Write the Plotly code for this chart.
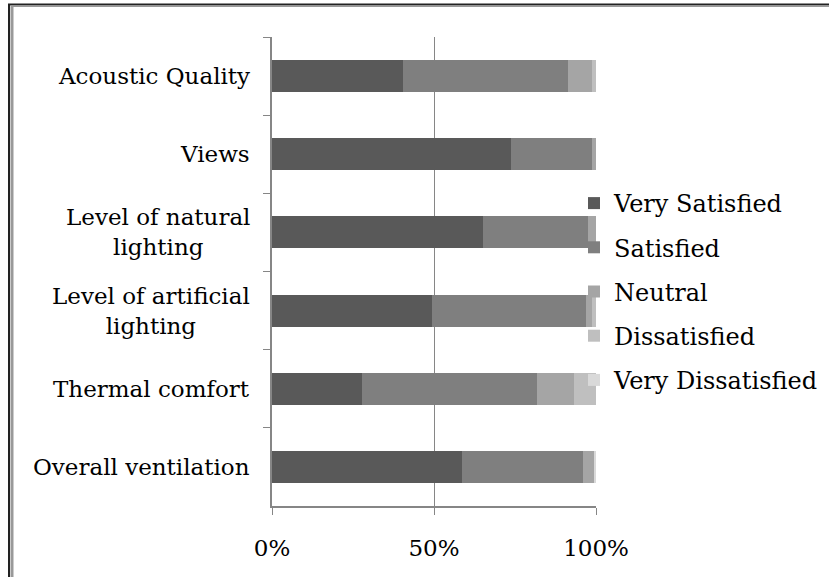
import plotly.graph_objects as go

categories = ["Acoustic Quality", "Views", "Level of natural<br>lighting",
              "Level of artificial<br>lighting", "Thermal comfort", "Overall ventilation"]
series_names = ["Very Satisfied", "Satisfied", "Neutral", "Dissatisfied", "Very Dissatisfied"]
very_satisfied = [40.4, 73.8, 65.1, 49.4, 27.8, 58.6]
satisfied = [51.0, 25.0, 32.4, 47.5, 54.0, 37.4]
neutral = [7.4, 1.2, 2.5, 1.9, 11.4, 3.4]
dissatisfied = [1.2, 0.0, 0.0, 1.2, 6.8, 0.0]
very_dissatisfied = [0.0, 0.0, 0.0, 0.0, 0.0, 0.6]
x_ticks = [0, 50, 100]
x_tick_labels = ["0%", "50%", "100%"]

colors = ["#595959", "#7f7f7f", "#a5a5a5", "#bfbfbf", "#d9d9d9"]
values = [very_satisfied, satisfied, neutral, dissatisfied, very_dissatisfied]

FONT = "DejaVu Serif"
FS = 23
LFS = 24
GRID = "#868686"

fig = go.Figure()
for name, vals, col in zip(series_names, values, colors):
    fig.add_trace(go.Bar(
        y=categories, x=vals, name=name, orientation="h",
        marker=dict(color=col, line=dict(width=0)),
        legendgroup=name,
    ))

L, R, T, B = 272, 233, 37, 71
W, H = 829, 577
pw, ph = W - L - R, H - T - B

def px_x(px):
    return (px - L) / pw

def px_y(py):
    return (H - B - py) / ph

shapes = []
# outer frame (double line look)
shapes.append(dict(type="line", xref="paper", yref="paper", x0=px_x(8), x1=px_x(829), y0=px_y(4.5), y1=px_y(4.5),
                   line=dict(color="#222222", width=2)))
shapes.append(dict(type="line", xref="paper", yref="paper", x0=px_x(11), x1=px_x(829), y0=px_y(6.3), y1=px_y(6.3),
                   line=dict(color="#999999", width=1.5)))
shapes.append(dict(type="line", xref="paper", yref="paper", x0=px_x(9), x1=px_x(9), y0=px_y(4), y1=px_y(577),
                   line=dict(color="#222222", width=2)))
shapes.append(dict(type="line", xref="paper", yref="paper", x0=px_x(12), x1=px_x(12), y0=px_y(6), y1=px_y(577),
                   line=dict(color="#999999", width=3)))

annotations = []
for c in categories:
    annotations.append(dict(x=0, xref="paper", y=c, yref="y", text=c, showarrow=False,
                            xanchor="right", align="center", xshift=-20,
                            font=dict(family=FONT, size=FS, color="black")))

fig.update_layout(
    width=W, height=H,
    margin=dict(l=L, r=R, t=T, b=B, pad=0, autoexpand=False),
    paper_bgcolor="white", plot_bgcolor="white",
    barmode="stack", bargap=0.59,
    font=dict(family=FONT, size=FS, color="black"),
    showlegend=True,
    legend=dict(x=px_x(574), y=px_y(181), xanchor="left", yanchor="top",
                traceorder="grouped", tracegroupgap=10,
                font=dict(family=FONT, size=LFS, color="black"),
                bgcolor="rgba(0,0,0,0)", itemwidth=30),
    xaxis=dict(range=[0, 100], tickvals=x_ticks, ticktext=x_tick_labels,
               showgrid=True, gridcolor=GRID, gridwidth=1, zeroline=False,
               showline=True, linecolor=GRID, linewidth=1.5,
               ticks="outside", ticklen=7, tickcolor=GRID,
               ticklabelstandoff=14,
               tickfont=dict(family=FONT, size=FS, color="black")),
    yaxis=dict(type="category", autorange="reversed", showgrid=False, zeroline=False,
               showline=True, linecolor=GRID, linewidth=2,
               ticks="outside", ticklen=7, tickcolor=GRID, tickson="boundaries",
               showticklabels=False),
    shapes=shapes,
    annotations=annotations,
)

fig.write_html("out.html", config={"displayModeBar": False},
               post_script="document.body.style.margin='0';")
